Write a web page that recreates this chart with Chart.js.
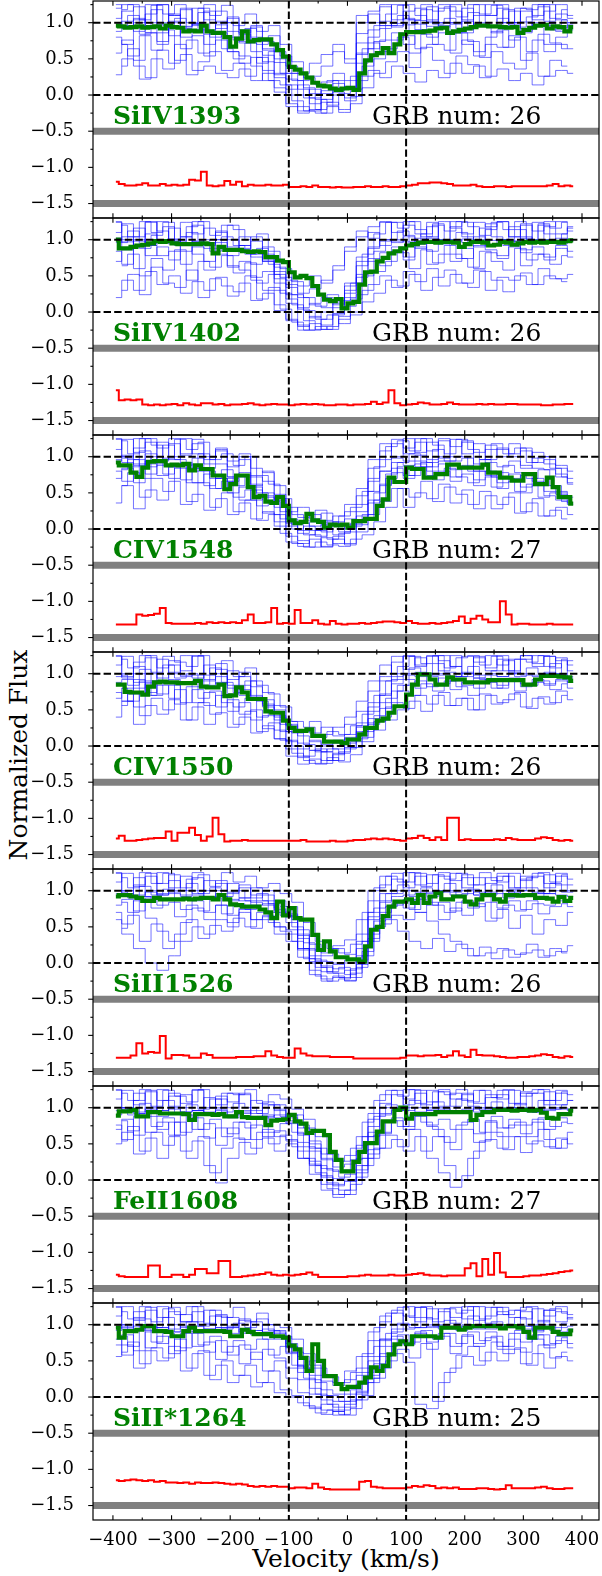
<!DOCTYPE html>
<html>
<head>
<meta charset="utf-8">
<script src="https://cdn.jsdelivr.net/npm/chart.js@4.4.0/dist/chart.umd.min.js"></script>
<style>
  body { margin: 0; background: #fff; width: 602px; height: 1576px; position: relative; overflow: hidden; }
  canvas { position: absolute; left: 0; }
  .axis-title { position: absolute; font: 25px "DejaVu Serif"; line-height: 1; white-space: nowrap; color: #000; }
  #ylab { left: 18px; top: 755px; transform: translate(-50%, -50%) rotate(-90deg); }
  #xlab { left: 346px; top: 1558px; transform: translate(-50%, -50%); }
</style>
</head>
<body>
<div id="ylab" class="axis-title">Normalized Flux</div>
<div id="xlab" class="axis-title">Velocity (km/s)</div>
<script>
// Grade de velocidade (km/s) da mediana e do ruído
const velocity = [-395,-385,-375,-365,-355,-345,-335,-325,-315,-305,-295,-285,-275,-265,-255,-245,-235,-225,-215,-205,-195,-185,-175,-165,-155,-145,-135,-125,-115,-105,-95,-85,-75,-65,-55,-45,-35,-25,-15,-5,5,15,25,35,45,55,65,75,85,95,105,115,125,135,145,155,165,175,185,195,205,215,225,235,245,255,265,275,285,295,305,315,325,335,345,355,365,375,385];
// Grades mais grossas para os espectros individuais (duas, intercaladas)
const velocityBlue = [-395,-375,-355,-335,-315,-295,-275,-255,-235,-215,-195,-175,-155,-135,-115,-95,-75,-55,-35,-15,5,25,45,65,85,105,125,145,165,185,205,225,245,265,285,305,325,345,365,385];
const velocityBlueB = [-385,-365,-345,-325,-305,-285,-265,-245,-225,-205,-185,-165,-145,-125,-105,-85,-65,-45,-25,-5,15,35,55,75,95,115,135,155,175,195,215,235,255,275,295,315,335,355,375];

const ionNames = ['SiIV1393', 'SiIV1402', 'CIV1548', 'CIV1550', 'SiII1526', 'FeII1608', 'SiII*1264'];
const grbCounts = [26, 26, 27, 26, 26, 27, 25];

const xMajorTicks = [-400, -300, -200, -100, 0, 100, 200, 300, 400];
const xMinorTicks = [-350, -250, -150, -50, 50, 150, 250, 350];
const yMajorTicks = [-1.5, -1.0, -0.5, 0.0, 0.5, 1.0];
const yMinorTicks = [-1.25, -0.75, -0.25, 0.25, 0.75, 1.25];
const fluxRefLines = [0.0, 1.0];
const velRefLines = [-100, 100];
const bandLevels = [-0.5, -1.5];

// Mediana (verde)
const medianSiIV1393 = [0.96,0.95,0.93,0.94,0.95,0.93,0.94,0.95,0.92,0.96, 0.94,0.93,0.88,0.89,0.88,0.96,0.88,0.86,0.86,0.80, 0.67,0.78,0.88,0.74,0.76,0.77,0.77,0.70,0.62,0.53, 0.39,0.35,0.30,0.24,0.17,0.13,0.12,0.09,0.07,0.09, 0.10,0.07,0.30,0.48,0.55,0.58,0.65,0.58,0.70,0.84, 0.87,0.87,0.87,0.88,0.89,0.92,0.93,0.86,0.88,0.90, 0.92,0.94,0.96,0.96,0.95,0.95,0.94,0.93,0.94,0.86, 0.90,0.93,0.96,0.97,0.92,0.95,0.94,0.88,0.94];
const medianSiIV1402 = [1.00,0.88,0.88,0.90,0.92,0.93,0.95,0.98,0.97,0.98, 0.95,0.94,0.94,0.94,0.94,0.95,0.94,0.81,0.90,0.86, 0.86,0.86,0.84,0.83,0.84,0.83,0.76,0.76,0.71,0.69, 0.55,0.48,0.50,0.47,0.36,0.24,0.17,0.15,0.18,0.05, 0.12,0.14,0.38,0.55,0.56,0.70,0.75,0.81,0.84,0.88, 0.92,0.94,0.96,0.97,0.97,0.96,0.97,0.97,0.96,0.90, 0.94,0.97,0.97,0.96,0.92,0.93,0.97,0.96,0.93,0.95, 0.97,0.96,0.97,0.96,0.97,0.97,0.96,0.98,0.99];
const medianCIV1548 = [0.92,0.88,0.88,0.78,0.72,0.85,0.93,0.94,0.94,0.88, 0.89,0.88,0.90,0.81,0.88,0.83,0.83,0.74,0.74,0.55, 0.62,0.74,0.74,0.58,0.44,0.46,0.38,0.36,0.44,0.32, 0.12,0.08,0.10,0.21,0.12,0.10,0.02,0.06,0.05,0.06, 0.02,0.11,0.11,0.14,0.14,0.32,0.41,0.71,0.65,0.65, 0.85,0.83,0.83,0.71,0.71,0.76,0.76,0.89,0.89,0.85, 0.85,0.85,0.85,0.89,0.78,0.78,0.71,0.71,0.67,0.67, 0.76,0.76,0.62,0.62,0.71,0.58,0.44,0.44,0.35];
const medianCIV1550 = [0.85,0.85,0.75,0.74,0.74,0.71,0.82,0.88,0.89,0.88, 0.88,0.87,0.87,0.87,0.90,0.82,0.81,0.81,0.85,0.69, 0.70,0.81,0.74,0.65,0.65,0.65,0.48,0.46,0.46,0.35, 0.25,0.21,0.21,0.23,0.14,0.14,0.06,0.06,0.06,0.04, 0.09,0.09,0.16,0.25,0.25,0.35,0.38,0.46,0.55,0.55, 0.71,0.85,0.99,0.99,0.92,0.85,0.85,0.95,0.92,0.92, 0.88,0.88,0.88,0.88,0.91,0.91,0.91,0.91,0.91,0.91, 0.85,0.85,0.92,0.97,0.97,0.97,0.96,0.95,0.90];
const medianSiII1526 = [0.92,0.94,0.94,0.92,0.90,0.86,0.86,0.90,0.88,0.88, 0.88,0.88,0.89,0.88,0.89,0.90,0.90,0.88,0.94,0.88, 0.81,0.80,0.78,0.78,0.78,0.74,0.70,0.62,0.85,0.66, 0.76,0.62,0.60,0.60,0.39,0.18,0.30,0.16,0.08,0.08, 0.05,0.05,0.02,0.23,0.46,0.50,0.65,0.78,0.85,0.85, 0.88,0.83,0.94,0.83,0.92,0.97,0.88,0.88,0.92,0.92, 0.85,0.81,0.88,0.94,0.94,0.88,0.85,0.94,0.94,0.93, 0.94,0.94,0.90,0.90,0.89,0.85,0.91,0.86,0.90];
const medianFeII1608 = [0.89,0.95,0.95,0.97,0.88,0.88,0.94,0.94,0.92,0.92, 0.92,0.92,0.91,0.83,0.91,0.91,0.91,0.90,0.91,0.88, 0.88,0.94,0.87,0.86,0.86,0.86,0.76,0.82,0.83,0.84, 0.90,0.81,0.78,0.65,0.68,0.68,0.62,0.39,0.28,0.12, 0.12,0.25,0.39,0.51,0.51,0.67,0.81,0.81,0.97,1.00, 0.85,0.91,0.91,0.91,0.91,0.94,0.94,0.94,0.94,0.94, 0.94,0.83,0.90,0.94,0.94,0.97,0.97,0.97,0.96,0.97, 0.97,0.96,0.97,0.93,0.86,0.85,0.91,0.91,0.96];
const medianSiII1264s = [0.96,0.82,0.91,0.91,0.93,0.98,0.98,0.91,0.91,0.90, 0.84,0.84,0.91,0.96,0.91,0.91,0.91,0.91,0.91,0.90, 0.84,0.84,0.93,0.90,0.87,0.87,0.87,0.84,0.84,0.82, 0.71,0.66,0.54,0.36,0.73,0.50,0.29,0.29,0.18,0.11, 0.14,0.14,0.20,0.27,0.41,0.36,0.43,0.59,0.73,0.77, 0.73,0.84,0.84,0.84,0.84,0.82,0.96,0.96,0.96,0.93, 0.96,0.98,0.98,0.98,0.98,0.98,0.95,0.98,0.98,0.96, 0.90,0.82,0.96,0.96,0.96,0.90,0.87,0.87,0.92];

// Ruído deslocado (vermelho)
const noiseSiIV1393 = [-1.20,-1.23,-1.25,-1.25,-1.24,-1.22,-1.25,-1.25,-1.23,-1.25, -1.24,-1.25,-1.24,-1.17,-1.18,-1.06,-1.25,-1.26,-1.25,-1.19, -1.24,-1.20,-1.26,-1.24,-1.25,-1.25,-1.24,-1.25,-1.25,-1.24, -1.27,-1.27,-1.26,-1.27,-1.25,-1.27,-1.27,-1.28,-1.27,-1.28, -1.28,-1.27,-1.27,-1.26,-1.27,-1.27,-1.26,-1.27,-1.27,-1.26, -1.25,-1.24,-1.22,-1.22,-1.21,-1.21,-1.22,-1.23,-1.25,-1.25, -1.25,-1.24,-1.26,-1.27,-1.27,-1.26,-1.26,-1.27,-1.26,-1.26, -1.26,-1.26,-1.26,-1.26,-1.25,-1.23,-1.26,-1.25,-1.26];
const noiseSiIV1402 = [-1.08,-1.22,-1.21,-1.22,-1.21,-1.28,-1.29,-1.28,-1.29,-1.28, -1.27,-1.29,-1.26,-1.28,-1.29,-1.26,-1.26,-1.28,-1.27,-1.29, -1.28,-1.28,-1.27,-1.26,-1.28,-1.29,-1.28,-1.27,-1.28,-1.28, -1.29,-1.28,-1.27,-1.28,-1.27,-1.28,-1.29,-1.29,-1.28,-1.28, -1.29,-1.28,-1.28,-1.27,-1.24,-1.27,-1.25,-1.08,-1.26,-1.29, -1.28,-1.27,-1.25,-1.26,-1.28,-1.28,-1.27,-1.25,-1.27,-1.28, -1.28,-1.28,-1.27,-1.28,-1.27,-1.28,-1.28,-1.27,-1.27,-1.28, -1.28,-1.28,-1.28,-1.29,-1.29,-1.28,-1.28,-1.27,-1.27];
const noiseCIV1548 = [-1.32,-1.32,-1.32,-1.32,-1.18,-1.20,-1.19,-1.17,-1.09,-1.30, -1.31,-1.31,-1.31,-1.31,-1.30,-1.31,-1.29,-1.30,-1.29,-1.30, -1.29,-1.30,-1.26,-1.18,-1.30,-1.30,-1.29,-1.09,-1.31,-1.30, -1.31,-1.12,-1.30,-1.30,-1.26,-1.31,-1.32,-1.27,-1.31,-1.32, -1.31,-1.31,-1.30,-1.31,-1.30,-1.29,-1.28,-1.28,-1.29,-1.30, -1.27,-1.30,-1.31,-1.31,-1.30,-1.31,-1.30,-1.29,-1.27,-1.21, -1.30,-1.24,-1.20,-1.25,-1.29,-1.29,-1.00,-1.18,-1.32,-1.31, -1.31,-1.32,-1.32,-1.32,-1.31,-1.32,-1.32,-1.32,-1.32];
const noiseCIV1550 = [-1.28,-1.24,-1.31,-1.31,-1.30,-1.29,-1.28,-1.27,-1.27,-1.18, -1.31,-1.20,-1.20,-1.13,-1.23,-1.31,-1.25,-0.99,-1.22,-1.32, -1.31,-1.31,-1.30,-1.31,-1.31,-1.31,-1.31,-1.31,-1.31,-1.31, -1.31,-1.31,-1.30,-1.32,-1.32,-1.32,-1.32,-1.31,-1.32,-1.32, -1.31,-1.30,-1.30,-1.29,-1.28,-1.29,-1.28,-1.29,-1.30,-1.31, -1.28,-1.27,-1.24,-1.27,-1.30,-1.26,-1.30,-0.99,-0.99,-1.30, -1.29,-1.30,-1.30,-1.30,-1.30,-1.29,-1.30,-1.27,-1.29,-1.30, -1.30,-1.30,-1.28,-1.26,-1.27,-1.30,-1.31,-1.30,-1.31];
const noiseSiII1526 = [-1.31,-1.31,-1.31,-1.28,-1.11,-1.25,-1.23,-1.24,-1.01,-1.32, -1.27,-1.27,-1.28,-1.31,-1.31,-1.25,-1.27,-1.31,-1.31,-1.31, -1.31,-1.30,-1.30,-1.30,-1.29,-1.29,-1.22,-1.28,-1.30,-1.31, -1.31,-1.18,-1.25,-1.28,-1.29,-1.29,-1.29,-1.30,-1.30,-1.30, -1.30,-1.32,-1.32,-1.32,-1.32,-1.32,-1.32,-1.32,-1.32,-1.31, -1.28,-1.28,-1.29,-1.28,-1.28,-1.27,-1.30,-1.28,-1.22,-1.28, -1.30,-1.20,-1.27,-1.28,-1.28,-1.29,-1.30,-1.31,-1.31,-1.30, -1.30,-1.29,-1.28,-1.26,-1.27,-1.30,-1.31,-1.29,-1.30];
const noiseFeII1608 = [-1.31,-1.33,-1.34,-1.34,-1.34,-1.34,-1.18,-1.18,-1.34,-1.34, -1.31,-1.31,-1.34,-1.31,-1.23,-1.23,-1.29,-1.29,-1.12,-1.12, -1.34,-1.34,-1.33,-1.32,-1.31,-1.30,-1.28,-1.31,-1.32,-1.31, -1.32,-1.31,-1.30,-1.28,-1.31,-1.34,-1.34,-1.34,-1.34,-1.34, -1.33,-1.33,-1.32,-1.31,-1.32,-1.32,-1.32,-1.31,-1.32,-1.32, -1.31,-1.30,-1.29,-1.31,-1.32,-1.32,-1.33,-1.32,-1.32,-1.32, -1.22,-1.15,-1.33,-1.09,-1.31,-1.01,-1.28,-1.34,-1.34,-1.34, -1.33,-1.32,-1.32,-1.31,-1.30,-1.29,-1.27,-1.26,-1.25];
const noiseSiII1264s = [-1.15,-1.16,-1.15,-1.14,-1.15,-1.16,-1.15,-1.17,-1.16,-1.18, -1.18,-1.19,-1.18,-1.20,-1.18,-1.19,-1.19,-1.18,-1.19,-1.20, -1.21,-1.20,-1.21,-1.23,-1.24,-1.23,-1.24,-1.23,-1.24,-1.24, -1.26,-1.25,-1.25,-1.26,-1.20,-1.25,-1.27,-1.28,-1.28,-1.28, -1.28,-1.28,-1.17,-1.16,-1.24,-1.25,-1.26,-1.26,-1.26,-1.26, -1.25,-1.23,-1.24,-1.22,-1.23,-1.26,-1.25,-1.26,-1.25,-1.27, -1.27,-1.27,-1.26,-1.26,-1.27,-1.28,-1.27,-1.22,-1.26,-1.26, -1.26,-1.26,-1.25,-1.24,-1.26,-1.27,-1.27,-1.26,-1.26];

// Espectros individuais (azul), em centésimos de fluxo, sobre velocityBlue
const spectraSiIV1393 = [
  [100,96,104,93,98,102,95,99,90,97, 88,84,76,62,45,22,8,-4,2,6, 12,58,80,92,99,97,103,95,100,98, 102,96,94,100,97,101,95,99,93,97],
  [120,130,88,112,125,82,118,98,130,92, 108,72,94,55,28,-12,-22,8,-30,4, -8,85,112,96,125,104,90,122,100,128, 86,110,130,94,116,88,126,102,112,106],
  [58,76,48,86,70,92,64,82,54,76, 60,44,52,34,24,8,14,2,18,30, 20,56,72,60,76,82,64,70,86,58, 76,54,70,66,82,48,76,60,70,64],
  [88,102,106,94,100,112,92,98,84,102, 80,74,60,46,30,14,0,-12,6,20, 10,72,90,102,94,106,98,102,94,100, 90,98,96,106,100,92,100,96,88,100],
  [28,50,40,24,62,44,56,34,40,30, 24,36,20,30,10,0,-16,-22,-6,16, 10,20,34,24,40,30,18,34,24,44, 30,40,26,36,20,30,14,26,34,30],
  [106,116,122,100,126,110,94,120,104,116, 100,90,80,64,50,30,20,26,40,60, 44,100,116,122,104,126,110,100,120,116, 104,126,110,120,100,116,110,126,104,100],
  [80,70,96,86,74,100,80,90,70,86, 60,54,40,20,4,-16,-26,-20,-10,0, -4,44,64,76,86,70,90,80,96,86, 70,60,80,90,76,86,96,70,80,90],
  [126,94,100,126,86,110,120,96,116,100, 106,86,96,74,60,40,30,44,56,70, 50,110,100,126,96,116,120,104,126,100, 120,96,110,126,100,120,104,116,126,110]
];
const spectraSiIV1402 = [
  [102,97,100,95,99,101,96,98,92,96, 90,86,80,70,52,34,20,10,6,14, 40,70,90,98,100,97,102,99,100,98, 101,97,99,100,98,102,97,100,99,98],
  [124,86,116,92,128,100,84,120,96,112, 78,104,66,90,40,12,-18,-28,-10,6, 30,76,110,92,124,106,88,118,96,126, 104,90,122,100,118,86,124,108,94,116],
  [70,88,60,92,78,84,66,90,58,80, 62,70,48,56,30,18,6,12,20,10, 26,52,74,64,84,72,90,66,80,70, 88,60,82,74,90,64,80,72,88,76],
  [96,104,90,108,100,94,104,98,88,100, 84,92,76,70,46,24,4,-8,0,12, 36,64,88,100,96,104,98,102,94,100, 96,104,92,100,98,104,96,100,102,98],
  [20,44,30,56,38,50,26,42,30,48, 22,40,16,26,2,-12,-20,-6,-18,-2, 8,24,38,50,34,56,42,60,36,52, 40,58,30,48,44,54,38,50,46,52],
  [110,122,104,126,112,98,124,108,116,100, 120,92,104,80,62,38,26,32,44,58, 84,104,118,124,110,126,114,104,126,116, 108,124,118,126,104,120,112,126,108,118],
  [84,66,98,78,90,72,94,80,70,88, 64,58,44,30,10,-10,-26,-16,-24,-4, 20,48,70,82,90,76,94,84,96,80, 74,92,86,78,94,82,90,76,92,84],
  [126,100,92,124,96,116,104,126,94,110, 100,88,98,72,56,44,36,50,40,64, 90,112,102,126,98,120,108,124,100,118, 124,100,114,126,104,122,98,118,126,112]
];
const spectraCIV1548 = [
  [96,92,88,94,90,86,92,84,80,70, 66,72,58,44,40,14,8,4,6,10, 14,34,66,80,92,88,94,86,90,82, 88,80,74,78,70,74,66,60,52,44],
  [124,100,128,86,120,96,126,104,90,110, 72,96,60,80,42,10,-16,-26,-12,-20, -4,24,70,96,124,104,120,92,126,100, 122,86,110,100,118,84,106,90,76,62],
  [36,60,28,54,40,66,34,48,26,42, 20,36,14,24,4,-10,-20,-8,-24,-14, -22,-4,20,38,56,30,50,42,62,36, 54,28,46,34,50,24,42,18,30,20],
  [94,102,90,104,96,100,88,98,84,90, 72,78,62,50,30,4,-6,-2,0,-8, 6,18,52,80,98,94,102,96,100,94, 98,90,92,86,94,88,84,82,72,64],
  [70,84,64,90,74,86,68,80,60,70, 50,58,40,46,20,8,-2,10,-4,6, 0,12,40,62,78,70,86,74,80,66, 76,60,72,56,66,50,60,46,40,34],
  [110,124,106,120,112,126,104,118,100,112, 94,104,84,78,60,30,16,20,12,18, 24,46,84,108,118,112,126,108,122,114, 120,106,116,110,104,112,98,100,88,80],
  [80,66,96,76,88,70,90,64,76,56, 70,40,54,22,10,-18,-24,-14,-26,-10, -20,6,36,60,84,74,90,80,94,72, 86,68,80,64,76,58,70,52,48,36],
  [126,98,112,126,94,118,102,124,96,108, 86,100,72,66,48,24,30,14,22,8, 34,56,96,118,100,126,106,120,98,124, 104,118,96,112,100,108,92,96,84,70]
];
const spectraCIV1550 = [
  [88,92,80,86,90,92,88,90,84,88, 72,78,66,54,42,28,14,6,2,8, 16,32,54,72,92,98,96,100,98,96, 100,94,98,96,100,98,96,100,98,94],
  [124,96,110,74,120,100,126,94,112,86, 104,70,90,56,36,8,-14,-24,-8,-20, 4,28,60,90,124,106,122,100,126,110, 96,124,104,120,100,126,110,124,100,118],
  [40,62,30,56,44,64,36,54,30,46, 26,40,18,28,10,-4,-16,-6,-20,-10, -2,14,30,40,60,52,70,58,74,56, 66,50,70,60,72,54,66,58,76,64],
  [96,100,88,100,94,102,96,98,90,96, 80,84,70,58,40,20,4,-6,0,-4, 10,26,48,70,96,100,102,98,100,96, 102,98,100,96,102,100,98,102,100,96],
  [66,80,54,88,72,84,60,78,56,70, 48,60,36,42,22,6,-4,8,-8,4, 12,20,38,52,76,84,90,82,94,78, 88,80,92,84,90,82,88,86,92,80],
  [112,124,100,122,108,118,104,126,98,114, 92,102,82,74,56,34,22,18,26,14, 30,48,76,96,116,124,112,126,118,110, 124,116,126,112,120,126,114,124,118,112],
  [74,62,92,70,84,66,88,60,74,54, 64,44,50,24,10,-14,-26,-18,-24,-12, -4,10,32,60,86,92,80,96,86,90, 84,94,88,80,94,86,92,84,90,88],
  [126,94,116,126,90,112,98,124,92,106, 84,96,68,64,50,30,20,34,16,26, 40,62,90,112,100,126,110,124,104,126, 100,122,108,126,104,120,126,110,122,104]
];
const spectraSiII1526 = [
  [94,96,92,98,94,96,92,94,90,92, 88,86,84,80,72,66,40,10,2,0, 4,30,70,86,92,94,96,92,98,94, 96,98,94,96,98,94,92,96,94,92],
  [124,100,118,92,126,104,120,96,114,100, 110,90,104,86,70,56,20,-10,-22,-18, -26,10,64,96,124,104,120,98,126,100, 118,94,110,124,104,120,96,122,108,100],
  [60,40,20,0,-10,10,30,50,40,60, 50,70,60,64,50,40,20,6,-6,-14, -10,4,30,54,66,60,70,58,40,30, 20,10,14,20,8,14,18,10,16,24],
  [96,100,94,100,96,98,94,100,90,96, 86,90,80,82,74,68,34,2,-4,-8, 0,20,60,84,96,100,98,96,100,98, 100,94,98,100,96,100,98,96,100,98],
  [80,88,72,90,80,84,74,86,70,80, 66,76,60,66,50,46,18,0,-12,-2, -16,-6,34,62,82,76,88,80,84,72, 86,78,84,76,86,74,82,80,86,78],
  [112,124,106,120,110,122,104,118,100,114, 98,108,94,100,86,78,46,26,14,20, 12,40,86,108,116,112,124,110,120,114, 122,108,118,112,124,114,120,110,124,116],
  [70,54,86,62,44,30,56,76,60,80, 56,74,48,60,40,30,8,-16,-26,-20, -24,-2,40,70,80,88,70,84,60,76, 66,82,58,74,48,66,40,60,52,70],
  [126,96,108,124,94,114,100,126,92,110, 96,104,90,94,76,64,38,18,10,24, 32,60,100,120,100,126,108,122,100,124, 104,118,96,120,102,116,124,104,120,108]
];
const spectraFeII1608 = [
  [96,98,94,100,96,98,94,96,92,96, 90,94,88,86,90,82,72,54,28,12, 14,40,74,92,98,96,100,96,98,94, 96,100,98,96,100,98,94,96,98,96],
  [124,100,120,94,126,102,118,96,114,104, 120,92,110,88,104,80,52,26,-6,-20, -14,20,60,100,124,104,120,96,126,102, 118,98,114,124,100,120,94,122,104,110],
  [50,66,36,58,30,60,40,54,20,-4, 30,52,44,58,40,50,30,20,6,-8, 0,10,30,44,56,40,60,30,10,-10, 6,40,56,44,60,38,54,46,58,50],
  [90,100,92,98,88,100,94,96,90,98, 86,96,84,90,86,78,62,40,16,2, 8,30,66,90,96,100,94,98,100,96, 98,94,100,96,98,100,96,98,100,98],
  [70,84,62,88,70,80,66,86,58,72, 64,80,56,70,60,54,40,22,4,-6, -2,14,42,66,82,74,88,76,84,70, 80,64,82,72,84,76,80,70,86,78],
  [112,124,104,122,110,120,106,126,100,116, 108,120,96,104,98,90,76,50,30,18, 22,48,84,106,118,112,124,108,122,112, 120,106,118,112,124,116,120,110,124,118],
  [76,56,88,66,80,62,90,70,78,48, 72,56,76,60,68,56,30,8,-14,-24, -20,4,36,64,86,70,90,74,60,42, 70,52,80,60,76,64,84,56,44,66],
  [126,94,110,124,96,116,100,124,94,112, 100,118,92,108,96,86,64,44,36,26, 34,60,92,118,100,126,106,124,102,120, 110,124,100,118,106,122,126,104,120,110]
];
const spectraSiII1264s = [
  [96,94,98,92,96,94,98,90,94,92, 96,90,92,86,88,70,42,30,10,4, 12,30,56,80,90,94,96,98,94,96, 98,96,94,98,96,94,92,96,90,94],
  [124,96,118,100,126,90,114,104,120,96, 110,88,104,80,92,60,34,4,-18,-26, -14,8,40,80,120,100,124,96,118,102, 126,94,112,124,100,118,90,120,104,110],
  [56,72,40,64,50,70,36,60,30,44, 20,30,14,20,6,0,-8,-16,-10,-20, -6,4,20,40,60,48,-10,-16,20,40, 56,44,62,50,66,46,60,40,56,50],
  [92,100,94,98,90,100,96,98,92,96, 88,94,86,90,84,68,40,24,2,-6, 4,18,50,78,94,100,96,100,98,94, 100,96,98,100,96,98,94,100,96,98],
  [72,86,64,90,74,84,68,88,62,78, 58,72,52,66,54,40,24,12,-4,-14, -10,6,30,60,80,72,88,76,84,70, 86,74,82,70,88,76,80,68,84,74],
  [112,126,106,120,110,124,104,118,102,114, 96,108,92,100,90,74,56,44,22,16, 24,40,78,104,116,112,124,108,122,110, 120,106,124,114,120,108,122,112,118,114],
  [80,58,92,68,84,60,88,70,76,52, 70,46,62,36,50,26,6,-14,-24,-20, -26,-4,26,56,84,74,90,66,88,60, 84,70,90,66,80,62,86,72,78,68],
  [126,98,110,124,96,118,104,126,94,112, 98,106,88,94,80,62,44,50,30,20, 36,56,90,112,100,126,104,122,100,124, 108,126,102,118,110,124,100,120,126,108]
];

// Mais espectros (azul), sobre velocityBlueB
const spectraBSiIV1393 = [
  [92,110,84,118,96,106,88,114,80,100, 76,92,70,82,54,30,10,-6,-14,2, 8,40,74,96,110,88,118,98,106,92, 114,100,86,118,94,108,122,90,104],
  [70,54,82,62,90,48,76,58,86,64, 50,72,44,60,30,20,-4,-20,-10,-24, -2,26,50,64,80,58,84,70,62,86, 74,52,88,66,80,60,84,72,64],
  [118,126,104,124,112,126,100,120,110,124, 96,112,88,96,70,46,24,14,20,10, 26,64,96,112,124,104,126,116,122,108, 126,112,124,100,120,118,126,106,118],
  [40,64,22,50,36,70,28,46,60,34, 44,26,52,20,14,-8,-22,-26,-16,-20, -12,10,30,46,60,38,66,48,30,54, 42,24,60,44,36,58,26,48,40]
];
const spectraBSiIV1402 = [
  [96,112,88,106,118,92,110,100,84,104, 92,80,88,66,48,24,2,-10,-4,-16, 18,50,84,100,112,94,108,120,100,110, 96,116,104,92,114,100,120,96,108],
  [64,80,50,74,58,86,44,70,62,78, 54,68,40,52,26,10,-12,-24,-20,-6, 0,30,56,70,82,60,86,68,92,74, 62,84,70,58,88,72,80,66,78],
  [120,104,126,110,124,98,118,126,106,120, 114,100,108,84,60,42,20,8,24,16, 40,80,108,124,116,126,104,122,112,126, 118,106,124,114,126,100,122,116,124],
  [30,52,24,62,40,34,58,20,46,36, 28,50,18,34,4,-14,-26,-20,-24,-10, -4,14,26,44,36,52,30,48,58,40, 34,56,44,28,50,38,60,46,42]
];
const spectraBCIV1548 = [
  [100,86,108,92,116,96,84,104,70,82, 60,74,50,40,24,6,-8,-2,-14,-6, 4,20,40,76,92,104,86,110,94,100, 80,96,72,88,78,70,82,60,50],
  [60,78,44,70,52,84,38,64,30,50, 24,40,12,20,-6,-20,-26,-18,-22,-24, -14,-8,10,30,56,44,66,38,58,48, 34,52,28,44,22,36,18,26,14],
  [122,104,126,116,98,124,110,120,96,104, 88,100,74,62,42,20,12,26,8,18, 30,52,86,114,122,108,126,116,104,124, 110,96,118,104,112,92,100,84,72],
  [82,96,70,100,76,90,64,84,56,66, 44,54,32,38,14,0,4,-10,10,-4, 8,14,50,70,86,74,92,68,84,72, 64,80,58,70,52,62,44,50,38]
];
const spectraBCIV1550 = [
  [98,84,106,90,112,94,100,82,108,88, 74,90,62,48,30,18,2,-8,-4,-10, 6,20,42,66,84,108,98,114,102,96, 110,92,104,118,96,108,100,114,96],
  [56,72,42,66,50,78,36,60,44,70, 30,48,20,32,8,-10,-20,-26,-16,-22, -12,6,22,36,50,62,48,70,56,66, 50,72,58,64,74,52,68,60,70],
  [120,108,126,102,124,116,110,126,100,118, 96,108,84,72,54,34,26,12,20,16, 28,44,70,90,110,124,114,126,108,122, 126,112,124,104,120,116,126,108,120],
  [80,62,90,70,86,58,82,66,76,60, 54,66,40,46,20,0,-14,-4,-20,-8, -2,12,34,54,76,70,86,76,90,82, 70,88,80,92,76,84,90,78,86]
];
const spectraBSiII1526 = [
  [98,90,106,94,102,88,110,96,104,92, 100,86,96,82,78,60,28,4,-12,-6, -20,30,76,96,108,92,104,98,110,94, 102,96,108,90,100,104,96,110,98],
  [48,66,30,54,20,40,60,34,52,44, 62,50,70,56,44,30,6,-18,-26,-22, -14,10,50,60,44,30,20,34,16,26, 10,22,6,18,12,26,8,20,14],
  [118,104,126,110,124,100,116,122,106,126, 112,120,104,110,96,84,56,30,20,14, 26,70,104,120,112,126,106,122,116,124, 108,126,114,120,104,118,126,112,122],
  [84,70,92,76,88,64,80,72,90,68, 82,74,86,70,66,50,20,-6,-14,-20, -8,16,58,78,86,74,90,80,70,84, 76,92,62,80,72,86,68,78,82]
];
const spectraBFeII1608 = [
  [100,90,106,96,110,92,104,98,112,94, 106,100,92,104,88,90,72,44,14,4, 28,60,88,104,96,110,100,108,94,112, 102,96,108,100,106,94,110,98,104],
  [54,74,40,66,48,80,30,60,10,44, 58,36,66,50,62,46,30,10,-12,-20, -6,20,44,62,46,70,40,60,20,0, 30,54,66,42,60,50,70,44,56],
  [120,110,126,102,124,116,108,126,100,120, 118,126,106,118,112,98,84,60,36,26, 44,80,110,124,116,126,104,122,118,126, 108,124,114,126,104,120,126,110,122],
  [82,68,92,74,86,62,90,70,84,60, 80,72,88,66,78,66,46,20,-4,-14, 0,30,62,82,74,90,80,70,52,76, 84,66,88,72,80,60,86,74,80]
];
const spectraBSiII1264s = [
  [100,92,108,96,110,90,104,98,112,94, 102,96,108,92,84,62,40,20,2,-6, 10,34,70,88,102,96,110,98,106,92, 112,100,104,96,110,98,106,92,102],
  [62,76,46,68,54,80,40,64,24,50, 30,44,20,36,10,2,-12,-22,-18,-24, -16,2,26,50,66,54,74,-6,34,58, 70,50,76,60,68,44,72,54,62],
  [118,108,126,104,122,114,126,100,120,110, 124,104,116,100,96,80,60,40,28,20, 34,60,96,116,124,110,126,104,122,116, 126,108,124,114,120,126,104,122,116],
  [84,70,94,76,88,64,90,72,84,62, 78,66,80,58,70,44,26,4,-10,-18, -4,20,46,70,86,76,92,80,88,74, 90,78,84,70,92,80,86,74,82]
];

const panels = [
  { median: medianSiIV1393, noise: noiseSiIV1393, spectra: spectraSiIV1393, spectraB: spectraBSiIV1393 },
  { median: medianSiIV1402, noise: noiseSiIV1402, spectra: spectraSiIV1402, spectraB: spectraBSiIV1402 },
  { median: medianCIV1548, noise: noiseCIV1548, spectra: spectraCIV1548, spectraB: spectraBCIV1548 },
  { median: medianCIV1550, noise: noiseCIV1550, spectra: spectraCIV1550, spectraB: spectraBCIV1550 },
  { median: medianSiII1526, noise: noiseSiII1526, spectra: spectraSiII1526, spectraB: spectraBSiII1526 },
  { median: medianFeII1608, noise: noiseFeII1608, spectra: spectraFeII1608, spectraB: spectraBFeII1608 },
  { median: medianSiII1264s, noise: noiseSiII1264s, spectra: spectraSiII1264s, spectraB: spectraBSiII1264s }
];

// Geometria dos painéis (px)
const PANEL_TOP = 1, PANEL_H = 217, MARGIN = 6, AXIS_LEFT = 93, AXIS_RIGHT = 599;
const X_AXIS_H = 1576 - (PANEL_TOP + PANEL_H * 7);
const BLUE = 'rgba(0, 0, 255, 0.55)';

const fmtMinus = (v, d) => (v < 0 ? '\u2212' : '') + Math.abs(v).toFixed(d);
const clipFlux = v => Math.max(-0.25, Math.min(1.25, v));
const toPoints = (xs, ys) => xs.map((x, k) => ({ x, y: ys[k] }));

// Plugin: faixas cinzas, linhas tracejadas, moldura, ticks e rótulos
const panelDecor = {
  id: 'panelDecor',
  afterDatasetsDraw(chart, args, opts) {
    const { ctx, chartArea: a, scales: { x, y } } = chart;
    const seg = (x0, y0, x1, y1) => { ctx.beginPath(); ctx.moveTo(x0, y0); ctx.lineTo(x1, y1); ctx.stroke(); };
    ctx.save();

    ctx.strokeStyle = '#808080';
    ctx.lineWidth = 7;
    bandLevels.forEach(v => { const py = y.getPixelForValue(v); seg(a.left, py, a.right, py); });

    ctx.strokeStyle = '#000';
    ctx.lineWidth = 2;
    ctx.setLineDash([7.4, 3.2]);
    fluxRefLines.forEach(v => { const py = y.getPixelForValue(v); seg(a.left, py, a.right, py); });
    velRefLines.forEach(v => { const px = x.getPixelForValue(v); seg(px, a.top, px, a.bottom); });
    ctx.setLineDash([]);

    ctx.lineWidth = 1.2;
    ctx.strokeRect(a.left, a.top, a.right - a.left, a.bottom - a.top);

    ctx.lineWidth = 1.1;
    const xt = (list, len) => list.forEach(v => {
      const px = x.getPixelForValue(v);
      seg(px, a.top, px, a.top + len);
      seg(px, a.bottom, px, a.bottom - len);
    });
    xt(xMajorTicks, 4.8);
    xt(xMinorTicks, 2.6);
    const yt = (list, len) => list.forEach(v => {
      const py = y.getPixelForValue(v);
      seg(a.left - len, py, a.left, py);
    });
    yt(yMajorTicks, 4.8);
    yt(yMinorTicks, 2.6);

    ctx.textAlign = 'left';
    ctx.textBaseline = 'alphabetic';
    ctx.font = 'bold 25px "DejaVu Serif"';
    ctx.fillStyle = '#008000';
    ctx.fillText(opts.ion, x.getPixelForValue(-400), y.getPixelForValue(-0.4));
    ctx.font = '25px "DejaVu Serif"';
    ctx.fillStyle = '#000';
    ctx.fillText('GRB num: ' + opts.count, x.getPixelForValue(42), y.getPixelForValue(-0.4));
    ctx.restore();
  }
};

function makePanel(i) {
  const p = panels[i];
  const isLast = i === panels.length - 1;
  const top = PANEL_TOP + PANEL_H * i - MARGIN;
  const height = isLast ? 1576 - top : PANEL_H + 2 * MARGIN;
  const canvas = document.createElement('canvas');
  canvas.width = 602;
  canvas.height = height;
  canvas.style.top = top + 'px';
  canvas.style.width = '602px';
  canvas.style.height = height + 'px';
  document.body.appendChild(canvas);

  const datasets = [
    { data: toPoints(velocity, p.median), borderColor: '#008000', borderWidth: 4.2, stepped: 'middle', order: 0 },
    { data: toPoints(velocity, p.noise), borderColor: '#ff0000', borderWidth: 2, stepped: 'middle', order: 1 }
  ];
  const addBlue = (grid, s) => datasets.push({
    data: toPoints(grid, s.map(c => clipFlux(c / 100))),
    borderColor: BLUE,
    borderWidth: 1,
    stepped: 'middle',
    order: 2
  });
  p.spectra.forEach(s => addBlue(velocityBlue, s));
  p.spectraB.forEach(s => addBlue(velocityBlueB, s));

  new Chart(canvas.getContext('2d'), {
    type: 'line',
    data: { datasets },
    options: {
      responsive: false,
      animation: false,
      devicePixelRatio: 1,
      layout: { padding: { left: 0, right: 602 - AXIS_RIGHT, top: MARGIN, bottom: isLast ? 0 : MARGIN } },
      elements: { point: { radius: 0 }, line: { tension: 0, borderJoinStyle: 'miter' } },
      plugins: {
        legend: { display: false },
        tooltip: { enabled: false },
        panelDecor: { ion: ionNames[i], count: grbCounts[i] }
      },
      scales: {
        x: {
          type: 'linear',
          min: -434,
          max: 429,
          display: isLast,
          grid: { display: false },
          border: { display: false },
          afterBuildTicks: s => { s.ticks = xMajorTicks.map(v => ({ value: v })); },
          afterFit: s => {
            // só o último painel tem eixo x visível
            s.height = isLast ? X_AXIS_H : 0;
            s.paddingLeft = 0;
            s.paddingRight = 0;
          },
          ticks: {
            autoSkip: false,
            maxRotation: 0,
            padding: 2,
            color: '#000',
            font: { family: 'DejaVu Serif', size: 18 },
            callback: v => fmtMinus(v, 0)
          }
        },
        y: {
          type: 'linear',
          min: -1.7,
          max: 1.3,
          grid: { display: false },
          border: { display: false },
          afterBuildTicks: s => { s.ticks = yMajorTicks.map(v => ({ value: v })); },
          afterFit: s => { s.width = AXIS_LEFT; s.paddingTop = 0; s.paddingBottom = 0; },
          ticks: {
            autoSkip: false,
            padding: 11,
            color: '#000',
            font: { family: 'DejaVu Serif', size: 18 },
            callback: v => fmtMinus(v, 1)
          }
        }
      }
    },
    plugins: [panelDecor]
  });
}

if (typeof Chart === 'undefined') {
  console.error('[CHART] Chart.js não carregado.');
} else {
  panels.forEach((p, i) => makePanel(i));
}
</script>
</body>
</html>
